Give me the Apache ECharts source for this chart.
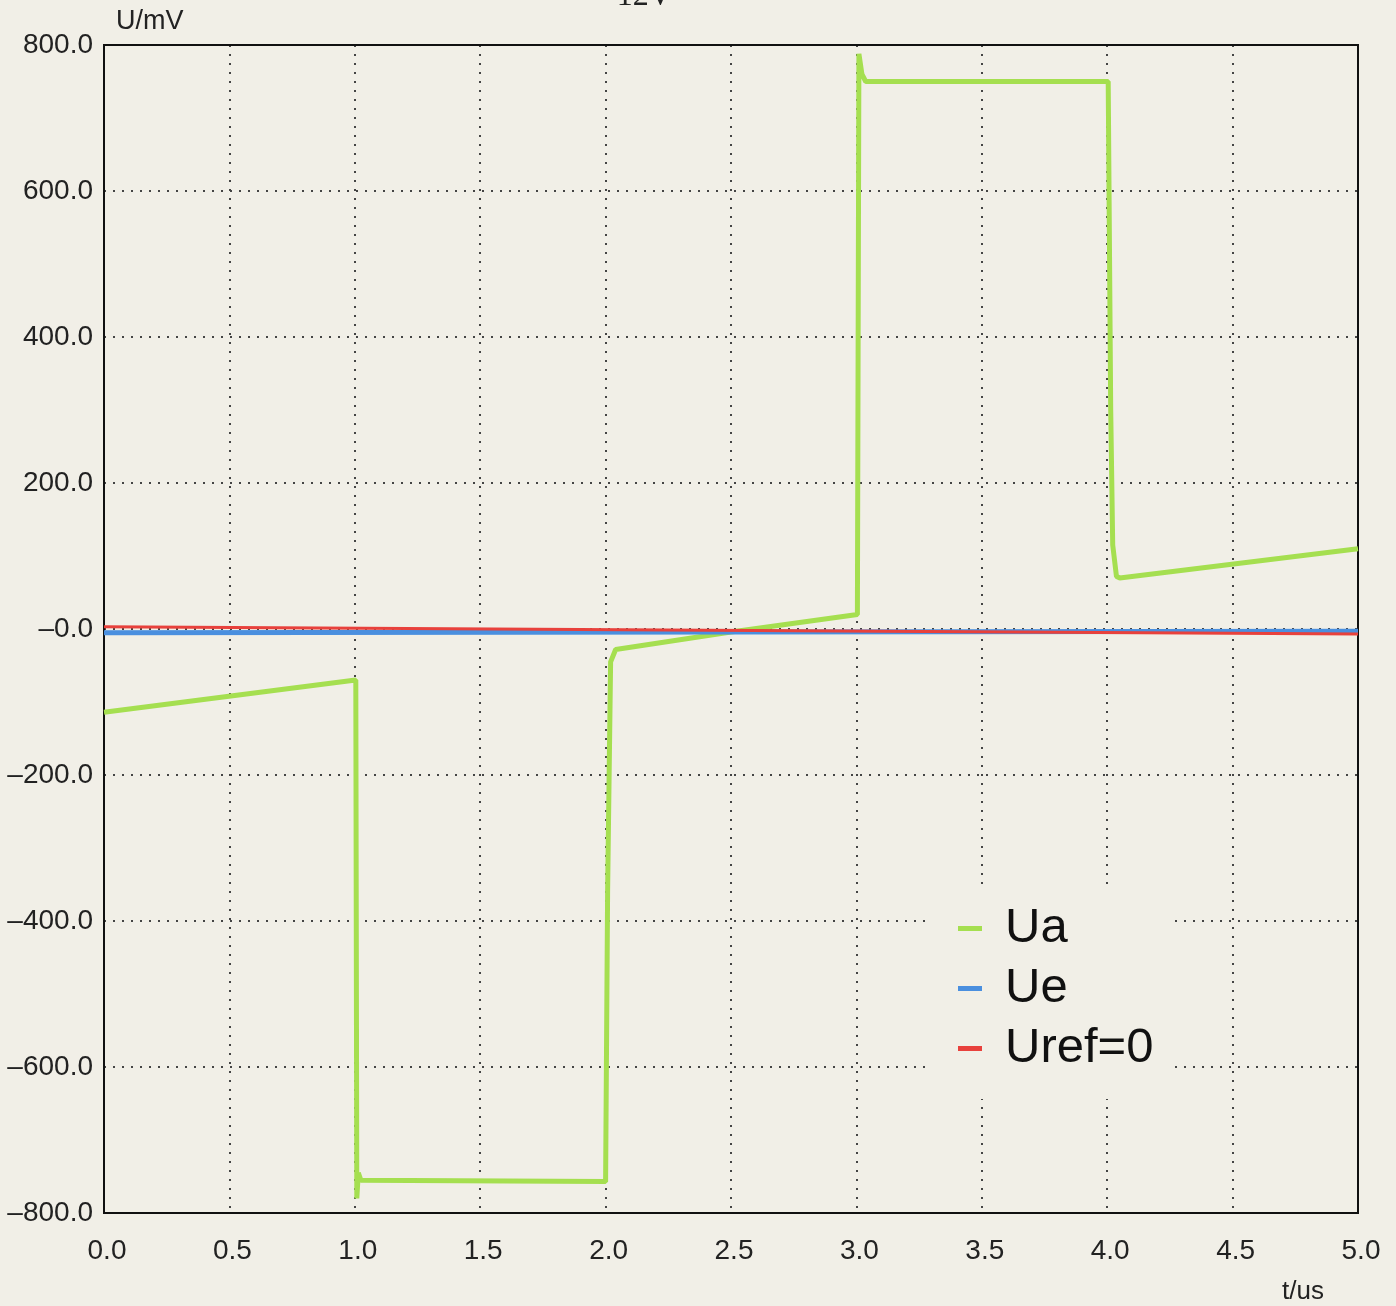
<!DOCTYPE html>
<html>
<head>
<meta charset="utf-8">
<script src="https://cdn.jsdelivr.net/npm/echarts@6/dist/echarts.min.js"></script>
<style>
html,body{margin:0;padding:0;background:#f1efe7;}
#c{width:1396px;height:1306px;}
</style>
</head>
<body>
<div id="c"></div>
<script>
// ---- data ----
const uaT = [0, 1.004, 1.008, 1.014, 1.024, 2.0, 2.008, 2.02, 2.04, 2.5, 3.004, 3.01, 3.022, 3.037, 4.004, 4.014, 4.022, 4.037, 4.05, 5.0];
const uaV = [-114, -70, -780, -745, -755, -757, -360, -45, -28, -4, 20, 788, 760, 750, 750, 300, 115, 72, 70, 110];
const ueT = [0, 5.0];
const ueV = [-5, -3];
const urefT = [0, 5.0];
const urefV = [3, -7];
const xTicks = [0, 0.5, 1.0, 1.5, 2.0, 2.5, 3.0, 3.5, 4.0, 4.5, 5.0];
const yTicks = [-800, -600, -400, -200, 0, 200, 400, 600, 800];
const seriesNames = ['Ua', 'Ue', 'Uref=0'];
const seriesColors = ['#a5df50', '#4a8fdf', '#e8413c'];

function zip(t, v) { return t.map((x, i) => [x, v[i]]); }
function fmtY(v) {
  if (v === 0) return '\u20130.0';
  return (v < 0 ? '\u2013' : '') + Math.abs(v).toFixed(1);
}

const FONT = '"Liberation Sans", Arial, Helvetica, sans-serif';
const chart = echarts.init(document.getElementById('c'), null, {renderer: 'canvas'});
const grid = {left: 104, right: 38, top: 45, bottom: 93};
const dotted = {type: [2, 7], width: 2, color: '#444'};

chart.setOption({
  backgroundColor: '#f1efe7',
  animation: false,
  grid: {left: grid.left, right: grid.right, top: grid.top, bottom: grid.bottom, show: true, borderColor: '#111', borderWidth: 2, backgroundColor: 'transparent', z: 1},
  xAxis: {
    type: 'value', min: 0, max: 5, interval: 0.5,
    axisLine: {show: true, onZero: false, lineStyle: {color: '#111', width: 2}},
    axisTick: {show: false},
    splitLine: {show: true, lineStyle: dotted},
    axisLabel: {margin: 24, fontSize: 28, fontFamily: FONT, color: '#222', formatter: v => v.toFixed(1), showMinLabel: true, showMaxLabel: true, padding: [0, 0, 0, 6]}
  },
  yAxis: {
    type: 'value', min: -800, max: 800, interval: 200,
    name: 'U/mV', nameLocation: 'end', nameGap: 10,
    nameTextStyle: {fontSize: 27, fontFamily: FONT, color: '#222', align: 'left', padding: [0, 0, 0, 12]},
    axisLine: {show: true, onZero: false, lineStyle: {color: '#111', width: 2}},
    axisTick: {show: false},
    splitLine: {show: true, lineStyle: dotted},
    axisLabel: {margin: 11, fontSize: 28, fontFamily: FONT, color: '#222', formatter: fmtY}
  },
  legend: {
    orient: 'vertical', left: 928, top: 884,
    padding: [20, 20, 26, 30],
    backgroundColor: '#f1efe7',
    itemWidth: 24, itemHeight: 5, itemGap: 11,
    icon: 'rect',
    textStyle: {fontSize: 49, fontFamily: FONT, color: '#111', padding: [0, 0, 0, 18]},
    data: seriesNames,
    z: 10
  },
  graphic: [
    {type: 'text', left: 1282, top: 1279, style: {text: 't/us', fontSize: 26, fontFamily: FONT, fill: '#222'}},
    {type: 'text', x: 598, y: -3, style: {text: '\u00b7 12V', font: '32px "Liberation Serif", "DejaVu Serif", serif', fill: '#222', verticalAlign: 'middle', align: 'left'}}
  ],
  series: [
    {name: seriesNames[0], type: 'line', data: zip(uaT, uaV), showSymbol: false, lineStyle: {width: 5, color: seriesColors[0]}, itemStyle: {color: seriesColors[0]}, z: 3},
    {name: seriesNames[1], type: 'line', data: zip(ueT, ueV), showSymbol: false, lineStyle: {width: 5, color: seriesColors[1]}, itemStyle: {color: seriesColors[1]}, z: 3},
    {name: seriesNames[2], type: 'line', data: zip(urefT, urefV), showSymbol: false, lineStyle: {width: 3, color: seriesColors[2]}, itemStyle: {color: seriesColors[2]}, z: 3}
  ]
});
</script>
</body>
</html>
